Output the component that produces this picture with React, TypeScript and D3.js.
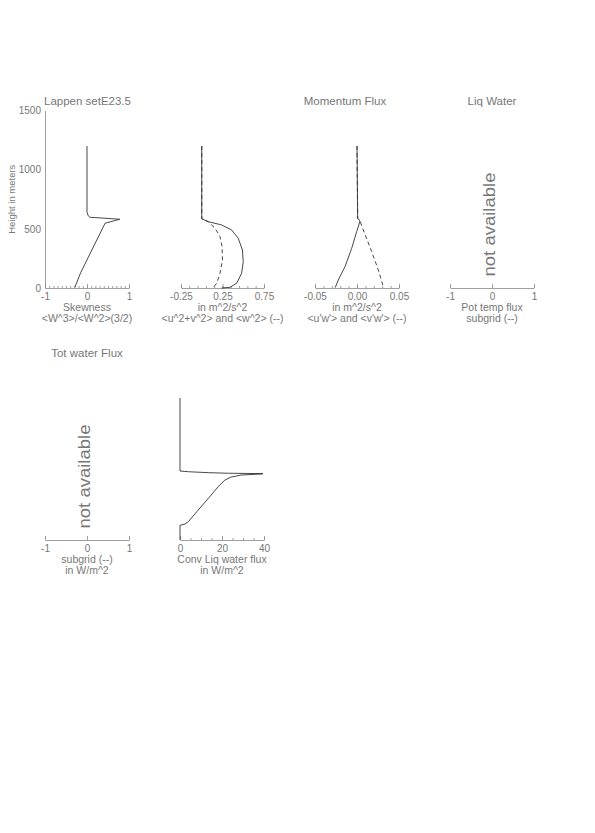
import { useEffect, useRef } from 'react';
import * as d3 from 'd3';

// skewness profile
const skewH = [1200, 640, 610, 598, 581, 547, 130, 6];
const skewV = [0, 0, 0.03, 0.07, 0.78, 0.43, -0.15, -0.29];

// variances: <u^2+v^2> solid, <w^2> dashed
const uvH = [1200, 585, 560, 533, 490, 420, 321, 222, 124, 40, 6, 0];
const uvV = [0, 0, 0.08, 0.24, 0.36, 0.44, 0.49, 0.5, 0.48, 0.42, 0.34, 0.24];
const wwH = [1200, 585, 560, 505, 434, 349, 237, 124, 40, 6];
const wwV = [0, 0, 0.08, 0.16, 0.22, 0.245, 0.25, 0.22, 0.18, 0.14];

// momentum flux: <u'w'> solid, <v'w'> dashed
const uwH = [1200, 589, 566, 476, 336, 180, 68, 3];
const uwV = [0, 0.0008, 0.0036, -0.0004, -0.0063, -0.0143, -0.0222, -0.026];
const vwH = [1200, 589, 566, 490, 307, 152, 11];
const vwV = [0, 0.0008, 0.0036, 0.0075, 0.0175, 0.0254, 0.0313];

// conv liq water flux
const lwH = [1200, 583, 577, 569, 564, 561, 558, 549, 530, 507, 451, 352, 254, 155, 135, 124, 0];
const lwV = [0, 0, 4, 13.5, 23, 39.5, 39, 29, 24, 21.4, 18.2, 13.5, 8.7, 4, 2.4, 0, 0];

// tick labels
const heightTicks = [0, 500, 1000, 1500];
const unitTicks = [-1, 0, 1];
const unitLabels = ['-1', '0', '1'];
const varTicks = [-0.25, 0.25, 0.75];
const varLabels = ['-0.25', '0.25', '0.75'];
const momTicks = [-0.05, 0, 0.05];
const momLabels = ['-0.05', '0.00', '0.05'];
const lwTicks = [0, 20, 40];
const lwLabels = ['0', '20', '40'];

const FONT = "'Liberation Sans', Arial, sans-serif";
const TXT = '#777';
const AX = '#888';

const zip = (h: number[], v: number[]) => h.map((hh, i) => ({ h: hh, v: v[i] }));

const panels = [
  { x0: 45, x1: 129, base: 288, domain: [-1, 1], ticks: unitTicks, labels: unitLabels, minor: 0.1,
    yAxis: true, title: 'Lappen setE23.5', titleX: 44, titleAnchor: 'start',
    lab1: 'Skewness', lab2: '<W^3>/<W^2>(3/2)',
    series: [{ d: zip(skewH, skewV), dash: null }] },
  { x0: 181, x1: 264, base: 288, domain: [-0.25, 0.75], ticks: varTicks, labels: varLabels, minor: 0.1,
    lab1: 'in m^2/s^2', lab2: '<u^2+v^2> and <w^2> (--)',
    series: [{ d: zip(wwH, wwV), dash: '4,3' }, { d: zip(uvH, uvV), dash: null }] },
  { x0: 315, x1: 399, base: 288, domain: [-0.05, 0.05], ticks: momTicks, labels: momLabels, minor: 0.01,
    title: 'Momentum Flux', titleX: 345, titleAnchor: 'middle',
    lab1: 'in m^2/s^2', lab2: "<u'w'> and <v'w'> (--)",
    series: [{ d: zip(vwH, vwV), dash: '4,3' }, { d: zip(uwH, uwV), dash: null }] },
  { x0: 450, x1: 534, base: 288, domain: [-1, 1], ticks: unitTicks, labels: unitLabels, minor: 0,
    title: 'Liq Water', titleX: 492, titleAnchor: 'middle', na: true,
    lab1: 'Pot temp flux', lab2: 'subgrid (--)', series: [] },
  { x0: 45, x1: 129, base: 540, domain: [-1, 1], ticks: unitTicks, labels: unitLabels, minor: 0,
    title: 'Tot water Flux', titleX: 87, titleAnchor: 'middle', na: true,
    lab1: 'subgrid (--)', lab2: 'in W/m^2', series: [] },
  { x0: 180, x1: 264, base: 540, domain: [0, 40], ticks: lwTicks, labels: lwLabels, minor: 5,
    lab1: 'Conv Liq water flux', lab2: 'in W/m^2',
    series: [{ d: zip(lwH, lwV), dash: null }] },
];

const App = () => {
  const svgRef = useRef<SVGSVGElement>(null);

  useEffect(() => {
    if (!svgRef.current) return;
    const svg = d3.select(svgRef.current);
    svg.selectAll('*').remove();
    svg.append('rect').attr('width', 595).attr('height', 833).attr('fill', '#fff');

    panels.forEach((p: any) => {
      const x = d3.scaleLinear().domain(p.domain).range([p.x0, p.x1]);
      const y = d3.scaleLinear().domain([0, 1500]).range([p.base, p.base - 177.5]);

      // minor ticks
      if (p.minor) {
        const minors = d3.range(p.domain[0], p.domain[1] + p.minor / 2, p.minor);
        svg.append('g')
          .attr('transform', `translate(0,${p.base})`)
          .call(d3.axisBottom(x).tickValues(minors).tickSize(-2).tickSizeOuter(0).tickFormat(() => ''))
          .call(g => g.select('.domain').remove())
          .selectAll('line').attr('stroke', AX).attr('stroke-width', 0.8);
      }

      // major ticks + labels
      const ax = svg.append('g')
        .attr('transform', `translate(0,${p.base})`)
        .call(d3.axisBottom(x).tickValues(p.ticks).tickSize(-4).tickSizeOuter(0).tickPadding(5)
          .tickFormat((d: any, i: number) => p.labels[i]));
      ax.select('.domain').attr('stroke', AX).attr('stroke-width', 0.8);
      ax.selectAll('line').attr('stroke', AX).attr('stroke-width', 0.8);
      ax.selectAll('text').attr('fill', TXT).style('font-family', FONT).style('font-size', '10px');

      if (p.yAxis) {
        const ay = svg.append('g')
          .attr('transform', `translate(${p.x0},0)`)
          .call(d3.axisLeft(y).tickValues(heightTicks).tickSize(0).tickSizeOuter(0).tickPadding(4)
            .tickFormat(d3.format('d')));
        ay.select('.domain').attr('stroke', AX).attr('stroke-width', 0.8);
        ay.selectAll('text').attr('fill', TXT).style('font-family', FONT).style('font-size', '10px');

        svg.append('text')
          .attr('transform', `translate(12,${y(750)}) rotate(-90)`)
          .attr('text-anchor', 'middle')
          .attr('dy', '0.35em')
          .attr('fill', TXT)
          .style('font-family', FONT)
          .style('font-size', '9.5px')
          .text('Height in meters');
      }

      if (p.title) {
        svg.append('text')
          .attr('x', p.titleX)
          .attr('y', p.base - 183)
          .attr('text-anchor', p.titleAnchor)
          .attr('fill', TXT)
          .style('font-family', FONT)
          .style('font-size', '11.5px')
          .text(p.title);
      }

      const cx = (p.x0 + p.x1) / 2;
      [p.lab1, p.lab2].forEach((t: string, i: number) => {
        svg.append('text')
          .attr('x', cx)
          .attr('y', p.base + 23 + i * 11)
          .attr('text-anchor', 'middle')
          .attr('fill', TXT)
          .style('font-family', FONT)
          .style('font-size', '10.5px')
          .text(t);
      });

      if (p.na) {
        svg.append('text')
          .attr('transform', `translate(${cx + 3},${p.base - 63.5}) rotate(-90)`)
          .attr('text-anchor', 'middle')
          .attr('fill', TXT)
          .attr('textLength', 104)
          .attr('lengthAdjust', 'spacingAndGlyphs')
          .style('font-family', FONT)
          .style('font-size', '16px')
          .text('not available');
      }

      const line = d3.line<{ h: number; v: number }>()
        .x(d => x(d.v))
        .y(d => y(d.h));

      p.series.forEach((s: any) => {
        svg.append('path')
          .datum(s.d)
          .attr('d', line)
          .attr('fill', 'none')
          .attr('stroke', '#333')
          .attr('stroke-width', 0.9)
          .attr('stroke-dasharray', s.dash);
      });
    });
  }, []);

  return (
    <svg
      ref={svgRef}
      width={595}
      height={833}
      style={{ position: 'absolute', left: 0, top: 0 }}
    />
  );
};

export default App;
